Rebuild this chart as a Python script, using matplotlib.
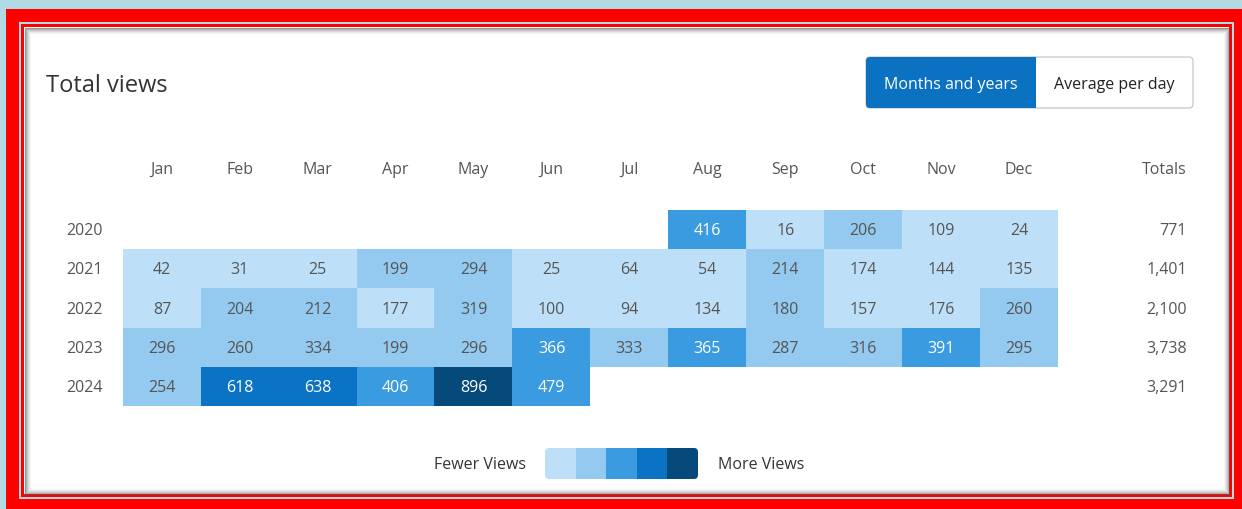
import numpy as np
import matplotlib
matplotlib.use("Agg")
import matplotlib.pyplot as plt
from matplotlib.colors import ListedColormap, BoundaryNorm
from matplotlib.patches import Rectangle, FancyBboxPatch
from matplotlib.transforms import offset_copy

plt.rcParams["font.family"] = ["Open Sans", "DejaVu Sans"]

# ---- data ----
months = ["Jan", "Feb", "Mar", "Apr", "May", "Jun",
          "Jul", "Aug", "Sep", "Oct", "Nov", "Dec"]
years = ["2020", "2021", "2022", "2023", "2024"]
nan = np.nan
views_2020 = [nan, nan, nan, nan, nan, nan, nan, 416, 16, 206, 109, 24]
views_2021 = [42, 31, 25, 199, 294, 25, 64, 54, 214, 174, 144, 135]
views_2022 = [87, 204, 212, 177, 319, 100, 94, 134, 180, 157, 176, 260]
views_2023 = [296, 260, 334, 199, 296, 366, 333, 365, 287, 316, 391, 295]
views_2024 = [254, 618, 638, 406, 896, 479, nan, nan, nan, nan, nan, nan]
level_colors = ["#bde0f8", "#94c9f0", "#3b9be0", "#0b73c4", "#064a7b"]

data = np.array([views_2020, views_2021, views_2022, views_2023, views_2024], dtype=float)
totals = [f"{int(np.nansum(row)):,}" for row in data]

# five equal bins up to the max value
bounds = np.linspace(0, np.nanmax(data), 6)
bounds[-1] += 1
cmap = ListedColormap(level_colors).with_extremes(bad=(0, 0, 0, 0))
norm = BoundaryNorm(bounds, cmap.N)

W, H = 1242, 509
fig = plt.figure(figsize=(W / 100, H / 100), dpi=100)
fig.patch.set_facecolor("#b0dbe5")

# ---- frame / panel (pixel coordinates) ----
bg = fig.add_axes([0, 0, 1, 1], zorder=0)
bg.set_xlim(0, W)
bg.set_ylim(H, 0)
bg.axis("off")
bg.add_patch(Rectangle((6, 9), W, H, fc="#ff0000", ec="none"))
bg.add_patch(Rectangle((19, 22), 1234 - 19, 499 - 22, fc="#b0dbe5", ec="none"))
bg.add_patch(Rectangle((21, 24), 1232 - 21, 497 - 24, fc="#ff0000", ec="none"))
bg.add_patch(Rectangle((24, 27), 1229 - 24, 494 - 27, fc="white", ec="none"))
for i, a in enumerate([0.6, 0.45, 0.32, 0.2, 0.12, 0.06]):
    bg.add_patch(Rectangle((24.5 + i, 27.5 + i), 1229 - 25 - 2 * i, 494 - 28 - 2 * i,
                           fill=False, ec="#555555", alpha=a, lw=0.75))


def down(ax_, trans, px):
    # shift text down by a few pixels
    return offset_copy(trans, fig=fig, x=0, y=-px * 0.72, units="points")


bg.text(46, 83, "Total views", fontsize=17, color="#333333", va="center", ha="left",
        transform=down(bg, bg.transData, 3))

# toggle buttons
bg.add_patch(FancyBboxPatch((866, 57), 1193 - 866, 51, boxstyle="round,pad=0,rounding_size=4",
                            fc="white", ec="#cccccc", lw=1))
bg.add_patch(FancyBboxPatch((866, 57), 1036 - 866, 51, boxstyle="round,pad=0,rounding_size=4",
                            fc="#0a72c1", ec="none"))
bg.add_patch(Rectangle((1020, 57), 16, 51, fc="#0a72c1", ec="none"))
bg.text(951, 83, "Months and years", fontsize=11.5, color="white", va="center", ha="center",
        transform=down(bg, bg.transData, 2))
bg.text(1114, 83, "Average per day", fontsize=11.5, color="#222222", va="center", ha="center",
        transform=down(bg, bg.transData, 2))

# ---- heatmap ----
x0, x1, y0, y1 = 123, 1058, 210, 406
ax = fig.add_axes([x0 / W, 1 - y1 / H, (x1 - x0) / W, (y1 - y0) / H], zorder=1)
ax.set_facecolor("none")
ax.imshow(np.ma.masked_invalid(data), cmap=cmap, norm=norm, aspect="auto",
          interpolation="nearest")
ax.set_xlim(-0.5, 11.5)
ax.set_ylim(4.5, -0.5)
ax.axis("off")

label_color = "#555555"
month_y = (y1 - 168) / (y1 - y0)
xt = down(ax, ax.get_xaxis_transform(), 2)
yt = down(ax, ax.get_yaxis_transform(), 1.5)
dt = down(ax, ax.transData, 1.5)
for i, m in enumerate(months):
    ax.text(i, month_y, m, transform=xt, ha="center", va="center",
            fontsize=11.5, color=label_color, clip_on=False)

year_x = (103 - x0) / (x1 - x0)
total_x = (1187 - x0) / (x1 - x0)
ax.text(total_x, month_y, "Totals", transform=down(ax, ax.transAxes, 2), ha="right",
        va="center", fontsize=11.5, color=label_color, clip_on=False)
for r, y in enumerate(years):
    ax.text(year_x, r, y, transform=yt, ha="right", va="center",
            fontsize=11.5, color=label_color, clip_on=False)
    ax.text(total_x, r, totals[r], transform=yt, ha="right",
            va="center", fontsize=11.5, color=label_color, clip_on=False)
    for c in range(len(months)):
        v = data[r, c]
        if np.isnan(v):
            continue
        txt_color = "white" if v >= bounds[2] else label_color
        ax.text(c, r, f"{int(v)}", ha="center", va="center", fontsize=11.5,
                color=txt_color, transform=dt)

# ---- legend scale ----
lx0, lx1, ly0, ly1 = 545, 698, 448, 479
lax = fig.add_axes([lx0 / W, 1 - ly1 / H, (lx1 - lx0) / W, (ly1 - ly0) / H], zorder=1)
im = lax.imshow(np.arange(len(level_colors))[None, :], cmap=ListedColormap(level_colors),
                aspect="auto", interpolation="nearest")
clip = FancyBboxPatch((lx0, ly0), lx1 - lx0, ly1 - ly0, boxstyle="round,pad=0,rounding_size=4",
                      transform=bg.transData, fc="none", ec="none")
im.set_clip_path(clip)
lax.axis("off")
bg.text(526, 463, "Fewer Views", fontsize=11.5, color="#333333", ha="right", va="center",
        transform=down(bg, bg.transData, 2))
bg.text(718, 463, "More Views", fontsize=11.5, color="#333333", ha="left", va="center",
        transform=down(bg, bg.transData, 2))

fig.savefig("out.png", dpi=100, facecolor=fig.get_facecolor())
